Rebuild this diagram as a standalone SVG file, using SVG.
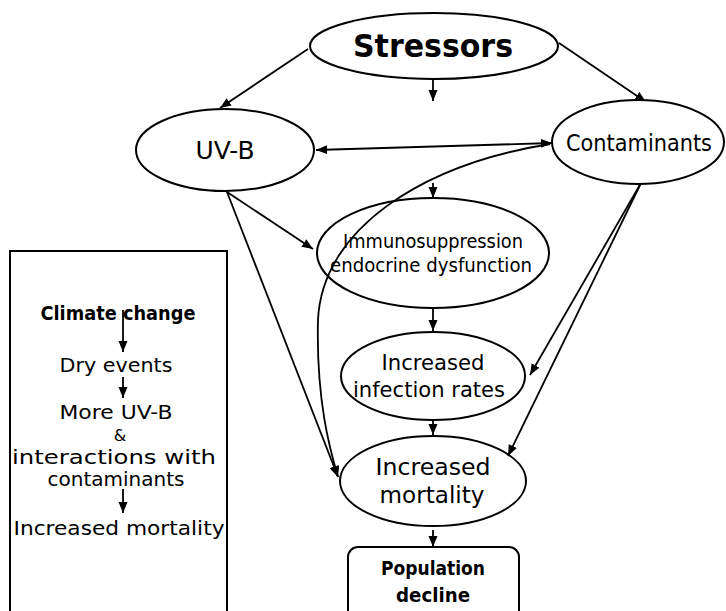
<svg xmlns="http://www.w3.org/2000/svg" width="726" height="611" viewBox="0 0 726 611">
<style>
.n{fill:#fff;stroke:#000;stroke-width:2}
.t{font-family:"DejaVu Sans",sans-serif;fill:#000;text-anchor:middle}
.b{font-weight:bold}
.c{fill:none;stroke:#000;stroke-width:1.8}
</style>
<defs>
<marker id="ah" markerUnits="userSpaceOnUse" markerWidth="12" markerHeight="10" refX="11" refY="4.5" orient="auto-start-reverse" viewBox="0 0 12 10">
<path d="M0,0 L11,4.5 L0,9 z" fill="#000"/>
</marker>
</defs>
<rect width="726" height="611" fill="#fff"/>
<g id="connectors">
<line class="c" x1="308" y1="49" x2="220" y2="108" marker-end="url(#ah)"/>
<line class="c" x1="559" y1="43" x2="646" y2="102" marker-end="url(#ah)"/>
<line class="c" x1="433" y1="80" x2="433" y2="101" marker-end="url(#ah)"/>
<line class="c" x1="316" y1="150" x2="552" y2="143" marker-start="url(#ah)" marker-end="url(#ah)"/>
<line class="c" x1="433" y1="183" x2="433" y2="198" marker-end="url(#ah)"/>
<line class="c" x1="227" y1="192" x2="313" y2="249" marker-end="url(#ah)"/>
<line class="c" x1="227" y1="192" x2="338" y2="477" marker-end="url(#ah)"/>
<path class="c" d="M550,144 C420,165 322,230 318,320 C316,400 330,450 338,477" marker-end="url(#ah)"/>
<line class="c" x1="641" y1="183" x2="530" y2="375" marker-end="url(#ah)"/>
<line class="c" x1="641" y1="183" x2="508" y2="456" marker-end="url(#ah)"/>
<line class="c" x1="433" y1="308" x2="433" y2="331" marker-end="url(#ah)"/>
<line class="c" x1="433" y1="421" x2="433" y2="435" marker-end="url(#ah)"/>
<line class="c" x1="433" y1="530" x2="433" y2="547" marker-end="url(#ah)"/>
</g>
<g id="stressors">
<ellipse class="n" cx="434" cy="46" rx="124" ry="33"/>
<text class="t b" x="433" y="57" font-size="32" textLength="160" lengthAdjust="spacingAndGlyphs">Stressors</text>
</g>
<g id="uvb">
<ellipse class="n" cx="225" cy="150" rx="89" ry="41"/>
<text class="t" x="225" y="159" font-size="25" textLength="59" lengthAdjust="spacingAndGlyphs">UV-B</text>
</g>
<g id="contaminants">
<ellipse class="n" cx="638" cy="142" rx="86" ry="42"/>
<text class="t" x="639" y="151" font-size="23" textLength="146" lengthAdjust="spacingAndGlyphs">Contaminants</text>
</g>
<g id="immuno">
<ellipse class="n" cx="433" cy="253" rx="116" ry="55" style="fill:none"/>
<text class="t" x="433" y="248" font-size="20" textLength="180" lengthAdjust="spacingAndGlyphs">Immunosuppression</text>
<text class="t" x="431" y="272" font-size="20" textLength="202" lengthAdjust="spacingAndGlyphs">endocrine dysfunction</text>
</g>
<g id="infection">
<ellipse class="n" cx="433" cy="376" rx="92" ry="44" style="fill:none"/>
<text class="t" x="433" y="370" font-size="21" textLength="103" lengthAdjust="spacingAndGlyphs">Increased</text>
<text class="t" x="429" y="397" font-size="21" textLength="152" lengthAdjust="spacingAndGlyphs">infection rates</text>
</g>
<g id="mortality">
<ellipse class="n" cx="433" cy="481" rx="93" ry="45" style="fill:none"/>
<text class="t" x="433" y="475" font-size="23" textLength="115" lengthAdjust="spacingAndGlyphs">Increased</text>
<text class="t" x="432" y="503" font-size="23" textLength="105" lengthAdjust="spacingAndGlyphs">mortality</text>
</g>
<g id="population">
<rect class="n" x="348" y="547" width="171" height="80" rx="10"/>
<text class="t b" x="433" y="575" font-size="20" textLength="104" lengthAdjust="spacingAndGlyphs">Population</text>
<text class="t b" x="433" y="602" font-size="20" textLength="74" lengthAdjust="spacingAndGlyphs">decline</text>
</g>
<g id="climate-box">
<rect x="10" y="251" width="217" height="400" fill="none" stroke="#000" stroke-width="2"/>
<text class="t b" x="118" y="320" font-size="20" textLength="155" lengthAdjust="spacingAndGlyphs">Climate change</text>
<text class="t" x="116" y="372" font-size="20" textLength="113" lengthAdjust="spacingAndGlyphs">Dry events</text>
<text class="t" x="116" y="419" font-size="19" textLength="113" lengthAdjust="spacingAndGlyphs">More UV-B</text>
<text class="t" x="120" y="441" font-size="16">&amp;</text>
<text class="t" x="114" y="464" font-size="19" textLength="204" lengthAdjust="spacingAndGlyphs">interactions with</text>
<text class="t" x="116" y="486" font-size="19" textLength="137" lengthAdjust="spacingAndGlyphs">contaminants</text>
<text class="t" x="119" y="535" font-size="20" textLength="211" lengthAdjust="spacingAndGlyphs">Increased mortality</text>
<line class="c" x1="123" y1="310" x2="123" y2="352" marker-end="url(#ah)"/>
<line class="c" x1="123" y1="377" x2="123" y2="398" marker-end="url(#ah)"/>
<line class="c" x1="123" y1="489" x2="123" y2="513" marker-end="url(#ah)"/>
</g>
</svg>
